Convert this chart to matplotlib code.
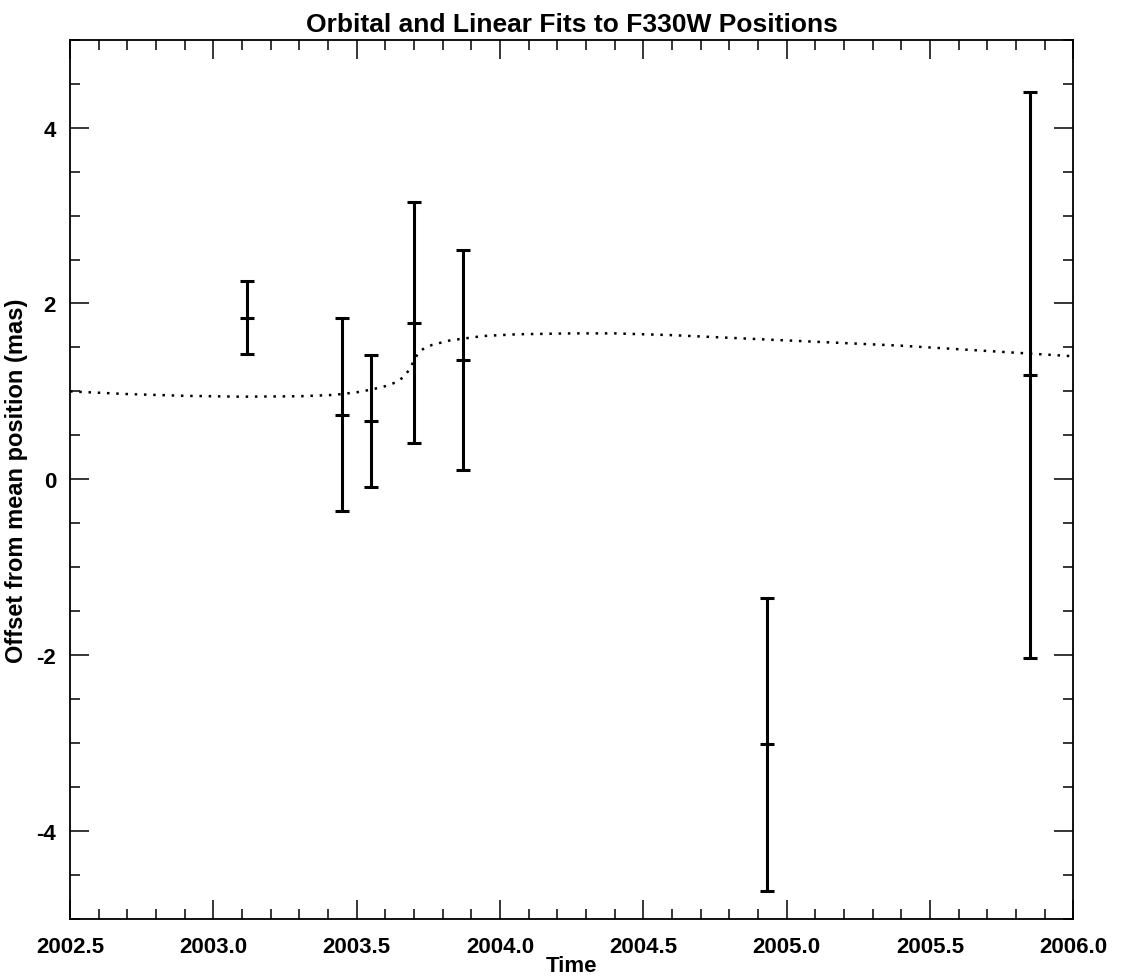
import numpy as np
import matplotlib.pyplot as plt
from matplotlib.ticker import MultipleLocator

plt.rcParams['font.family'] = ['Liberation Sans', 'DejaVu Sans']
plt.rcParams['font.weight'] = 'bold'

# F330W positions (epoch, offset, 1-sigma error)
epoch = [2003.118, 2003.450, 2003.550, 2003.700, 2003.872, 2004.930, 2005.849]
offset = [1.84, 0.735, 0.66, 1.78, 1.36, -3.015, 1.19]
err = [0.42, 1.10, 0.75, 1.37, 1.25, 1.67, 3.22]

# orbital + linear fit
fit_t = [2002.50, 2002.70, 2002.90, 2003.10, 2003.30, 2003.42, 2003.50, 2003.55,
         2003.60, 2003.64, 2003.665, 2003.684, 2003.698, 2003.715, 2003.735,
         2003.764, 2003.825, 2003.94, 2004.06, 2004.25, 2004.40, 2004.60,
         2004.80, 2005.00, 2005.20, 2005.40, 2005.60, 2005.80, 2006.00]
fit_y = [1.00, 0.97, 0.95, 0.94, 0.945, 0.96, 0.99, 1.02,
         1.06, 1.107, 1.168, 1.25, 1.34, 1.44, 1.49,
         1.53, 1.58, 1.63, 1.65, 1.66, 1.66, 1.64,
         1.61, 1.58, 1.55, 1.52, 1.48, 1.44, 1.40]

fig = plt.figure(figsize=(11.22, 9.79), dpi=100)
ax = fig.add_axes([0.0624, 0.0603, 0.8942, 0.8981])

ax.plot(fit_t, fit_y, color='black', lw=1.8, dashes=(1, 2.7), dash_capstyle='butt')
ax.errorbar(epoch, offset, yerr=err, fmt='none', ecolor='black',
            elinewidth=2.2, capsize=5, capthick=2.2)
ax.plot(epoch, offset, ls='none', marker='_', ms=10, mew=2.2, color='black')

ax.set_xlim(2002.5, 2006.0)
ax.set_ylim(-5, 5)
ax.xaxis.set_major_locator(MultipleLocator(0.5))
ax.xaxis.set_minor_locator(MultipleLocator(0.1))
ax.yaxis.set_major_locator(MultipleLocator(2))
ax.yaxis.set_minor_locator(MultipleLocator(0.5))
ax.xaxis.set_major_formatter(plt.FormatStrFormatter('%.1f'))
ax.yaxis.set_major_formatter(plt.FormatStrFormatter('%d'))

ax.tick_params(which='both', direction='in', top=True, right=True, width=1.1,
               labelsize=16)
ax.tick_params(axis='x', pad=12)
ax.tick_params(axis='y', pad=10)
ax.tick_params(which='major', length=14)
ax.tick_params(which='minor', length=7)
for s in ax.spines.values():
    s.set_linewidth(1.3)

ax.set_title('Orbital and Linear Fits to F330W Positions', fontsize=19,
             fontweight='bold', pad=6)
ax.set_xlabel('Time', fontsize=16, fontweight='bold', labelpad=-1)
ax.set_ylabel('Offset from mean position (mas)', fontsize=17, fontweight='bold',
              labelpad=6)

fig.savefig('out.png', dpi=100)
